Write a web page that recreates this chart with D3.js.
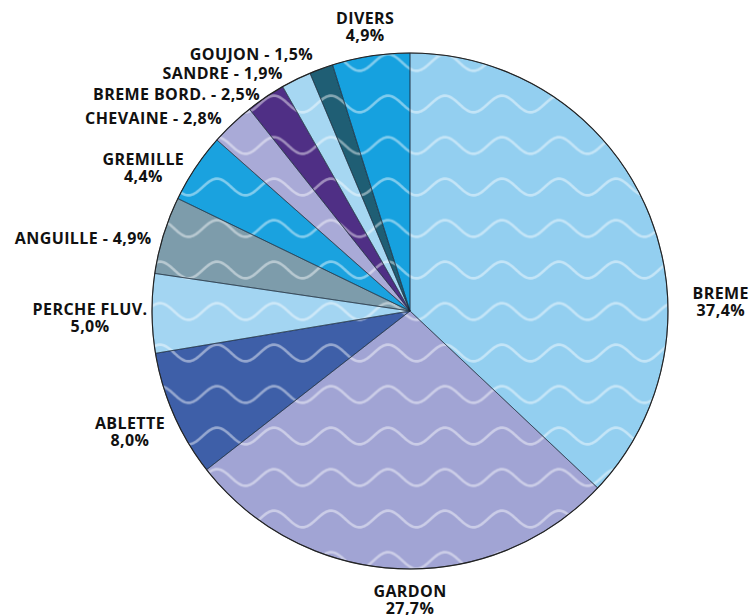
<!DOCTYPE html>
<html>
<head>
<meta charset="utf-8">
<script src="https://cdn.jsdelivr.net/npm/d3@7"></script>
<style>
  body { margin: 0; background: #fff; }
  svg { display: block; }
  .lbl { font-family: "Open Sans", sans-serif; font-weight: 700; font-size: 16px; letter-spacing: 0.4px; fill: #111; }
</style>
</head>
<body>
<svg></svg>
<script>
// catch composition (% of total)
var species = ["BREME", "GARDON", "ABLETTE", "PERCHE FLUV.", "ANGUILLE", "GREMILLE",
               "CHEVAINE", "BREME BORD.", "SANDRE", "GOUJON", "DIVERS"];
var shares  = [37.4, 27.7, 8.0, 5.0, 4.9, 4.4, 2.8, 2.5, 1.9, 1.5, 4.9];
var colors  = ["#93cff0", "#a1a4d4", "#3e5fa8", "#a3d5f2", "#7d9cab", "#1aa2df",
               "#a9aad7", "#4f2f85", "#a6d7f2", "#1f5e74", "#16a1df"];

// label placement: [angle in degrees clockwise from top, distance from centre], two-line or inline
var labelAt = [[87.8, 311], [180, 286], [247.1, 304], [269.3, 320], [284.6, 267], [298.7, 304],
               [314.8, 265], [324.6, 259], [331.3, 265], [338.9, 269], [351.1, 290]];
var inline  = [false, false, false, false, true, false, true, true, true, true, false];

var width = 754, height = 615,
    cx = 410, cy = 311, radius = 258;

var fmt = function(v) { return d3.format(".1f")(v).replace(".", ",") + "%"; };

var data = species.map(function(s, i) { return {name: s, value: shares[i], color: colors[i], i: i}; });

var pie = d3.pie().sort(null).value(function(d) { return d.value; });
var arc = d3.arc().innerRadius(0).outerRadius(radius);
var arcs = pie(data);

var svg = d3.select("svg").attr("width", width).attr("height", height);
var defs = svg.append("defs");

// white wavy lines over the whole pie
var pw = 57, ph = 41.5, amp = 8.3;
var pat = defs.append("pattern")
    .attr("id", "waves")
    .attr("patternUnits", "userSpaceOnUse")
    .attr("x", cx + 20.75).attr("y", 249.25)
    .attr("width", pw).attr("height", ph);
var pts = d3.range(-6, pw + 7, 1).map(function(x) {
  return [x, ph / 2 - amp * Math.sin(2 * Math.PI * x / pw)];
});
pat.append("path")
    .attr("d", d3.line()(pts))
    .attr("fill", "none")
    .attr("stroke", "#fff")
    .attr("stroke-opacity", 0.45)
    .attr("stroke-width", 2.6);

var g = svg.append("g").attr("transform", "translate(" + cx + "," + cy + ")");

g.selectAll(".slice")
    .data(arcs)
  .enter().append("path")
    .attr("class", "slice")
    .attr("d", arc)
    .attr("fill", function(d) { return d.data.color; });

g.append("circle")
    .attr("cx", 0).attr("cy", 0)
    .attr("r", radius)
    .attr("transform", "translate(" + (-cx) + "," + (-cy) + ")")
    .attr("cx", cx).attr("cy", cy)
    .attr("fill", "url(#waves)");

g.selectAll(".edge")
    .data(arcs)
  .enter().append("path")
    .attr("class", "edge")
    .attr("d", arc)
    .attr("fill", "none")
    .attr("stroke", "#1a2a3c")
    .attr("stroke-opacity", 0.6)
    .attr("stroke-width", 0.9);

g.append("circle")
    .attr("r", radius)
    .attr("fill", "none")
    .attr("stroke", "#222")
    .attr("stroke-width", 1.1);

// labels
var labels = g.selectAll(".lbl")
    .data(arcs)
  .enter().append("text")
    .attr("class", "lbl")
    .attr("transform", function(d) {
      var p = labelAt[d.data.i], a = p[0] * Math.PI / 180;
      return "translate(" + (p[1] * Math.sin(a)) + "," + (-p[1] * Math.cos(a)) + ")";
    })
    .attr("text-anchor", function(d) { return inline[d.data.i] ? "end" : "middle"; });

labels.each(function(d) {
  var t = d3.select(this);
  if (inline[d.data.i]) {
    t.append("tspan").attr("x", 0).attr("y", 0).text(d.data.name + " - " + fmt(d.data.value));
  } else {
    t.append("tspan").attr("x", 0).attr("y", 0).text(d.data.name);
    t.append("tspan").attr("x", 0).attr("y", 17).text(fmt(d.data.value));
  }
});
</script>
</body>
</html>
